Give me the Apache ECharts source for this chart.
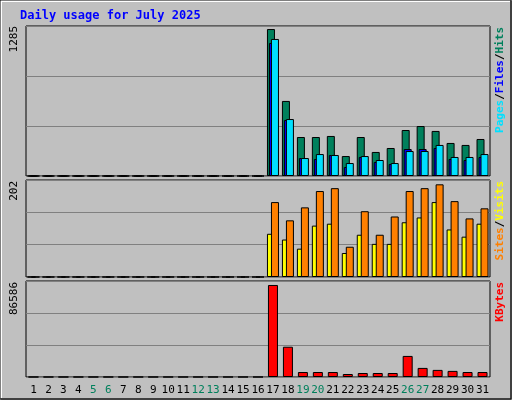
<!DOCTYPE html>
<html><head><meta charset="utf-8">
<script src="https://cdn.jsdelivr.net/npm/echarts@6/dist/echarts.min.js"></script>
<style>html,body{margin:0;padding:0;background:#c0c0c0}#c{width:512px;height:400px}</style>
</head><body><div id="c"></div>
<script>
const days = Array.from({length:31},(_,i)=>String(i+1));
const weekend = ['5','6','12','13','19','20','26','27'];
const hits  = [0,0,0,0,0,0,0,0,0,0,0,0,0,0,0,0,1259,643,334,334,343,171,334,206,240,394,428,386,283,266,317];
const files = [0,0,0,0,0,0,0,0,0,0,0,0,0,0,0,0,1140,480,154,146,180,77,163,120,103,231,231,240,146,137,163];
const pages = [0,0,0,0,0,0,0,0,0,0,0,0,0,0,0,0,1174,488,154,188,180,111,171,137,111,214,214,266,163,163,188];
const visits= [0,0,0,0,0,0,0,0,0,0,0,0,0,0,0,0,90,78,59,107,111,50,88,69,69,114,124,156,99,84,111];
const sites = [0,0,0,0,0,0,0,0,0,0,0,0,0,0,0,0,156,118,145,179,185,63,137,88,126,179,185,193,158,122,143];
const kbytes= [0,0,0,0,0,0,0,0,0,0,0,0,0,0,0,0,83000,27300,4500,4500,4500,2700,3600,3600,3600,19000,8200,6400,5500,4500,4500];
const maxHits=1285, maxSites=202, maxKb=86586;

const chart = echarts.init(document.getElementById('c'));
const mono = 'DejaVu Sans Mono';
const grids = [
  {left:26,right:22,top:26,height:150},
  {left:26,right:22,top:180,height:97},
  {left:26,right:22,top:281,height:96}
].map(g=>Object.assign(g,{show:true,borderColor:'#000',borderWidth:1,backgroundColor:'#c0c0c0'}));
function xa(i,show){return {type:'category',gridIndex:i,data:days,axisTick:{show:false},axisLine:{show:false},
  axisLabel:{show:show,interval:0,fontFamily:mono,fontSize:11,margin:8,color:(v)=>weekend.includes(v)?'#00805c':'#000'}};}
function ya(i,max){return {type:'value',gridIndex:i,min:0,max:max,interval:max/3,axisLabel:{show:false},axisTick:{show:false},axisLine:{show:false},splitLine:{lineStyle:{color:'#808080',width:1}}};}
const bs = {borderColor:'#000',borderWidth:1};
const sideText=(x,y,parts)=>({type:'text',x:x,y:y,rotation:Math.PI/2,style:{text:parts.map(p=>'{'+p[1]+'|'+p[0]+'}').join(''),align:'right',verticalAlign:'middle',
  rich:Object.fromEntries(parts.map(p=>[p[1],{fill:p[2],font:'bold 11px '+mono}]))}});
chart.setOption({
  animation:false,
  backgroundColor:'#c0c0c0',
  grid:grids,
  xAxis:[xa(0,false),xa(1,false),xa(2,true)],
  yAxis:[ya(0,maxHits),ya(1,maxSites),ya(2,maxKb)],
  series:[
    {type:'bar',xAxisIndex:0,yAxisIndex:0,data:hits,barWidth:8,barGap:'-75%',itemStyle:Object.assign({color:'#00805c'},bs)},
    {type:'bar',xAxisIndex:0,yAxisIndex:0,data:files,barWidth:8,barGap:'-75%',itemStyle:Object.assign({color:'#0000ff'},bs)},
    {type:'bar',xAxisIndex:0,yAxisIndex:0,data:pages,barWidth:8,barGap:'-75%',itemStyle:Object.assign({color:'#00e0ff'},bs)},
    {type:'bar',xAxisIndex:1,yAxisIndex:1,data:visits,barWidth:8,barGap:'-50%',itemStyle:Object.assign({color:'#ffff00'},bs)},
    {type:'bar',xAxisIndex:1,yAxisIndex:1,data:sites,barWidth:8,barGap:'-50%',itemStyle:Object.assign({color:'#ff8000'},bs)},
    {type:'bar',xAxisIndex:2,yAxisIndex:2,data:kbytes,barWidth:10,itemStyle:Object.assign({color:'#ff0000'},bs)}
  ],
  graphic:[
    {type:'polyline',shape:{points:[[1,399],[1,1],[511,1]]},style:{stroke:'#fff',lineWidth:2,fill:null}},
    {type:'polyline',shape:{points:[[1,399],[511,399],[511,1]]},style:{stroke:'#808080',lineWidth:2,fill:null}},
    {type:'rect',shape:{x:0,y:0,width:511,height:399},style:{stroke:'#000',lineWidth:1,fill:null}},
    {type:'text',x:20,y:16,style:{text:'Daily usage for July 2025',fill:'#0000ff',font:'bold 12px '+mono,verticalAlign:'middle'}},
    {type:'text',x:14,y:26,rotation:Math.PI/2,style:{text:'1285',fill:'#000',font:'11px '+mono,align:'right',verticalAlign:'middle'}},
    {type:'text',x:14,y:181,rotation:Math.PI/2,style:{text:'202',fill:'#000',font:'11px '+mono,align:'right',verticalAlign:'middle'}},
    {type:'text',x:14,y:282,rotation:Math.PI/2,style:{text:'86586',fill:'#000',font:'11px '+mono,align:'right',verticalAlign:'middle'}},
    sideText(500,27,[['Pages','p','#00e0ff'],['/','s','#000'],['Files','f','#0000ff'],['/','s2','#000'],['Hits','h','#00805c']]),
    sideText(500,181,[['Sites','a','#ff8000'],['/','s','#000'],['Visits','v','#ffff00']]),
    sideText(500,282,[['KBytes','k','#ff0000']])
  ]
});
</script></body></html>
